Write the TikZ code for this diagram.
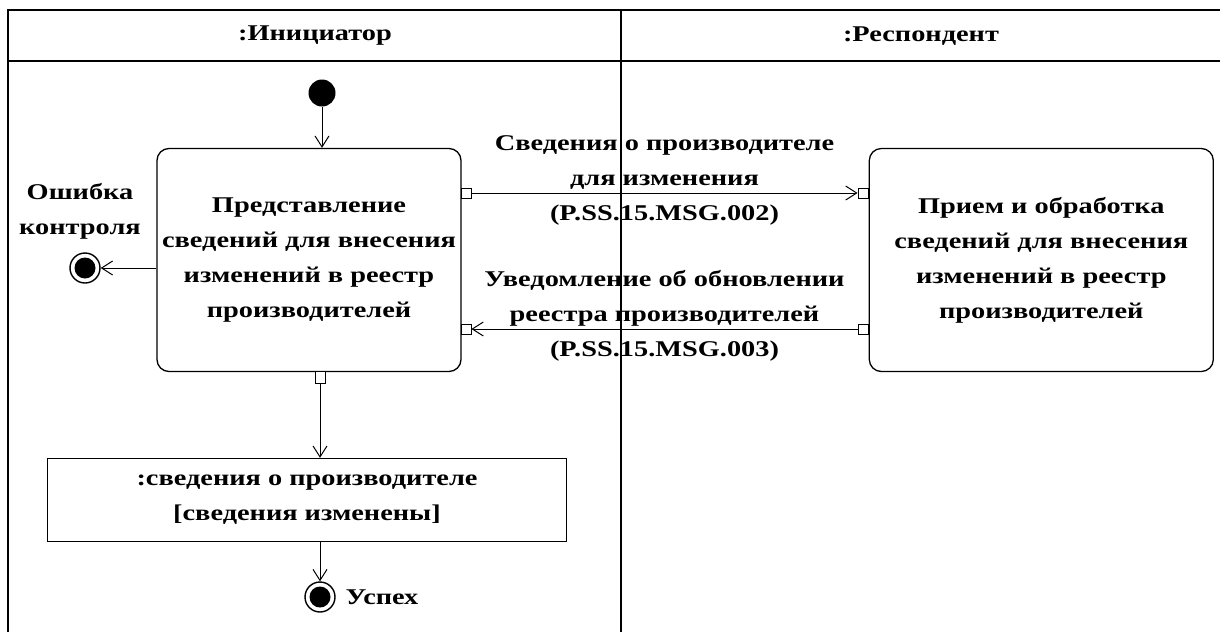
\documentclass[tikz,border=0pt]{standalone}
\usepackage{fontspec}
\setmainfont{Liberation Serif}[FakeStretch=1.26]
\usetikzlibrary{positioning,arrows.meta}
\newcommand\diafont{\fontsize{22.5}{35}\selectfont\bfseries}
\tikzset{
  every picture/.style={
    line width=1pt
  },
  action/.style={draw, rounded corners=12pt, align=center, line width=1.3pt,
    minimum width=304pt, minimum height=223pt},
  objbox/.style={draw, align=center, line width=1.3pt,
    minimum width=519pt, minimum height=83pt},
  portbox/.style={draw, fill=white, minimum size=10pt, inner sep=0pt, line width=0.8pt},
  flow/.style={-{Straight Barb[length=11pt,width=14pt]}},
  startnode/.style={circle, fill, minimum size=27pt, inner sep=0pt},
  endnode/.style={circle, draw, line width=1.4pt, minimum size=30pt, inner sep=0pt,
    path picture={\fill (path picture bounding box.center) circle (10.5pt);}},
  msg/.style={align=center, midway, yshift=13pt}
}

\begin{document}
\begin{tikzpicture}[x=1pt, y=-1pt, font=\diafont]
  \useasboundingbox (0,0) rectangle (1220,632);
  % swimlanes
  \draw[line width=1.5pt] (1220,10) -- (8,10) -- (8,632);
  \draw[line width=1.5pt] (8,61) -- (1220,61);
  \draw[line width=1.5pt] (621,10) -- (621,632);
  \node (initiator) at (315,36) {:Инициатор};
  \node (respondent) at (921,36) {:Респондент};

  \node[action] (present) at (309,260) {Представление\\сведений для внесения\\изменений в реестр\\производителей};
  \node[action, minimum width=344pt, right=407pt of present] (receive) {Прием и обработка\\сведений для внесения\\изменений в реестр\\производителей};
  \node[startnode] (start) at (322,93) {};
  \node[endnode] (errend) at (85,268) {};
  \node[align=center] (errlabel) at (80,211) {Ошибка\\контроля};
  \node[objbox] (data) at (307,500) {:сведения о производителе\\ {[}сведения изменены{]}};
  \node[endnode] (okend) at (320,597) {};
  \node[right=6pt of okend] (oklabel) {Успех};

  % pins
  \node[portbox] (sendpin) at (466,193) {};
  \node[portbox] (recvpin) at (863,193) {};
  \node[portbox] (replypin) at (863,329) {};
  \node[portbox] (ackpin) at (466,329) {};
  \node[portbox, minimum height=12pt] (outpin) at (320,377) {};

  \draw[flow] (start) -- (start |- present.north);
  \draw[flow] (present.west |- errend) -- (errend);
  \draw[flow] (sendpin) -- (recvpin) node[msg]
    {Сведения о производителе\\для изменения\\(P.SS.15.MSG.002)};
  \draw[flow] (replypin) -- (ackpin) node[msg]
    {Уведомление об обновлении\\реестра производителей\\(P.SS.15.MSG.003)};
  \draw[flow] (outpin) -- (outpin |- data.north);
  \draw[flow] (data.south -| okend) -- (okend);
\end{tikzpicture}
\end{document}
